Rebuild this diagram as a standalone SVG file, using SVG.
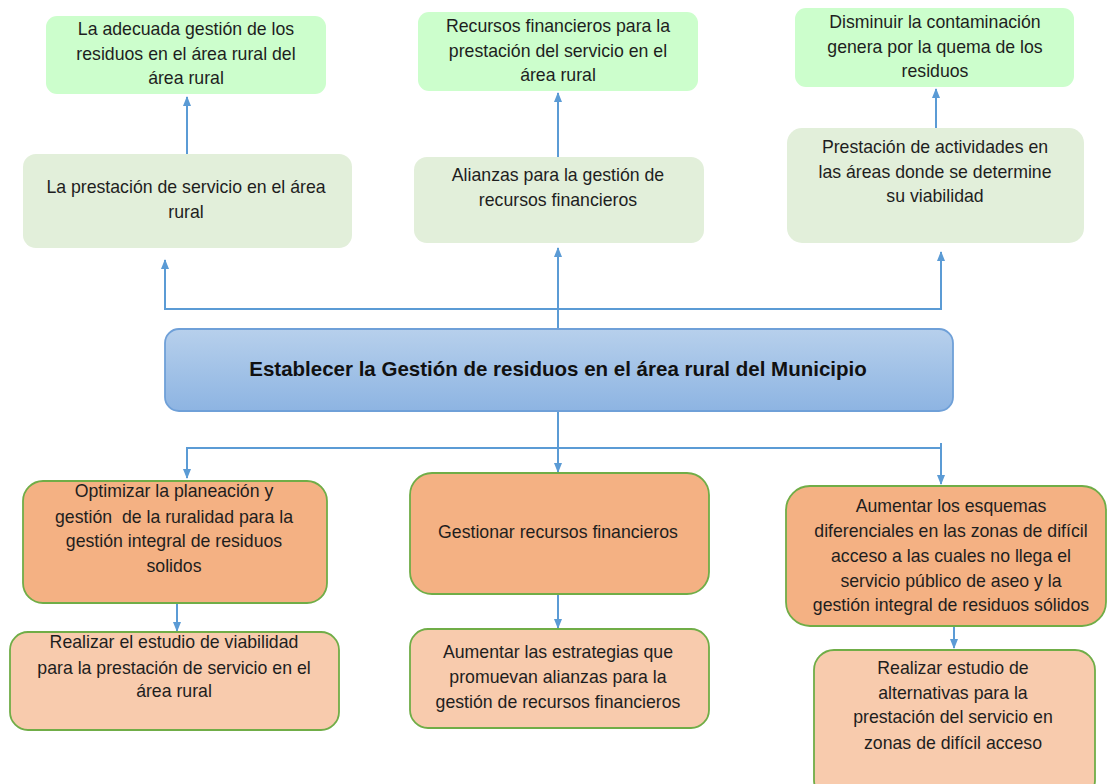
<svg xmlns="http://www.w3.org/2000/svg" width="1108" height="784" viewBox="0 0 1108 784">
<style>
.t{font-family:"Liberation Sans",Arial,sans-serif;font-size:17.7px;fill:#1e1e1e;text-anchor:middle}
.tb{font-family:"Liberation Sans",Arial,sans-serif;font-size:20.5px;font-weight:bold;fill:#111;text-anchor:middle}
.g1{fill:#ccfecc}
.g2{fill:#e2efda}
.o1{fill:#f4b183;stroke:#70ad47;stroke-width:1.8}
.o2{fill:#f8cbad;stroke:#70ad47;stroke-width:1.8}
.c{fill:none;stroke:#5b9bd5;stroke-width:2}
</style>
<defs>
<linearGradient id="bg" x1="0" y1="0" x2="0" y2="1">
<stop offset="0" stop-color="#b7d0ec"/>
<stop offset="1" stop-color="#8db4e2"/>
</linearGradient>
<marker id="ah" markerWidth="10" markerHeight="10" refX="9" refY="5" orient="auto" markerUnits="userSpaceOnUse">
<path d="M0,1 L10,5 L0,9 Z" fill="#5b9bd5"/>
</marker>
</defs>
<rect width="1108" height="784" fill="#fff"/>

<g id="connectors">
<line class="c" x1="187" y1="154" x2="187" y2="97" marker-end="url(#ah)"/>
<line class="c" x1="558" y1="157" x2="558" y2="93" marker-end="url(#ah)"/>
<line class="c" x1="936" y1="128" x2="936" y2="89" marker-end="url(#ah)"/>
<line class="c" x1="558" y1="329" x2="558" y2="248" marker-end="url(#ah)"/>
<polyline class="c" points="165,260 165,309 941,309 941,252"/>
<line class="c" x1="165" y1="270" x2="165" y2="260" marker-end="url(#ah)"/>
<line class="c" x1="941" y1="262" x2="941" y2="252" marker-end="url(#ah)"/>
<line class="c" x1="558" y1="411" x2="558" y2="472" marker-end="url(#ah)"/>
<polyline class="c" points="187,477 187,448 941,448 941,483"/>
<line class="c" x1="941" y1="443" x2="941" y2="448"/>
<line class="c" x1="187" y1="468" x2="187" y2="478" marker-end="url(#ah)"/>
<line class="c" x1="941" y1="474" x2="941" y2="484" marker-end="url(#ah)"/>
<line class="c" x1="177" y1="603" x2="177" y2="631" marker-end="url(#ah)"/>
<line class="c" x1="558" y1="594" x2="558" y2="628" marker-end="url(#ah)"/>
<line class="c" x1="954" y1="626" x2="954" y2="648" marker-end="url(#ah)"/>
</g>

<g id="n-a1">
<rect class="g1" x="46" y="16" width="280" height="78" rx="11"/>
<text class="t" x="186" y="35">La adecuada gestión de los</text>
<text class="t" x="186" y="60">residuos en el área rural del</text>
<text class="t" x="186" y="84">área rural</text>
</g>
<g id="n-b1">
<rect class="g1" x="418" y="12" width="280" height="79" rx="11"/>
<text class="t" x="558" y="32">Recursos financieros para la</text>
<text class="t" x="558" y="57">prestación del servicio en el</text>
<text class="t" x="558" y="81">área rural</text>
</g>
<g id="n-c1">
<rect class="g1" x="795" y="8" width="279" height="79" rx="11"/>
<text class="t" x="935" y="28">Disminuir la contaminación</text>
<text class="t" x="935" y="53">genera por la quema de los</text>
<text class="t" x="935" y="77">residuos</text>
</g>
<g id="n-a2">
<rect class="g2" x="23" y="154" width="329" height="94" rx="13"/>
<text class="t" x="186" y="193">La prestación de servicio en el área</text>
<text class="t" x="186" y="218">rural</text>
</g>
<g id="n-b2">
<rect class="g2" x="414" y="157" width="290" height="86" rx="13"/>
<text class="t" x="558" y="181">Alianzas para la gestión de</text>
<text class="t" x="558" y="206">recursos financieros</text>
</g>
<g id="n-c2">
<rect class="g2" x="787" y="128" width="297" height="115" rx="15"/>
<text class="t" x="935" y="153">Prestación de actividades en</text>
<text class="t" x="935" y="178">las áreas donde se determine</text>
<text class="t" x="935" y="202">su viabilidad</text>
</g>
<g id="n-center">
<rect x="165" y="329" width="788" height="82" rx="14" fill="url(#bg)" stroke="#6fa0d8" stroke-width="1.8"/>
<text class="tb" x="558" y="376">Establecer la Gestión de residuos en el área rural del Municipio</text>
</g>
<g id="n-d1">
<rect class="o1" x="23" y="481" width="304" height="122" rx="20"/>
<text class="t" x="174" y="497">Optimizar la planeación y</text>
<text class="t" x="174" y="523" xml:space="preserve">gestión  de la ruralidad para la</text>
<text class="t" x="174" y="547">gestión integral de residuos</text>
<text class="t" x="174" y="572">solidos</text>
</g>
<g id="n-e1">
<rect class="o1" x="410" y="473" width="299" height="121" rx="22"/>
<text class="t" x="558" y="538">Gestionar recursos financieros</text>
</g>
<g id="n-f1">
<rect class="o1" x="786" y="486" width="320" height="140" rx="24"/>
<text class="t" x="951" y="512">Aumentar los esquemas</text>
<text class="t" x="951" y="537">diferenciales en las zonas de difícil</text>
<text class="t" x="951" y="562">acceso a las cuales no llega el</text>
<text class="t" x="951" y="587">servicio público de aseo y la</text>
<text class="t" x="951" y="611">gestión integral de residuos sólidos</text>
</g>
<g id="n-d2">
<rect class="o2" x="10" y="632" width="329" height="98" rx="18"/>
<text class="t" x="174" y="648">Realizar el estudio de viabilidad</text>
<text class="t" x="174" y="674">para la prestación de servicio en el</text>
<text class="t" x="174" y="697">área rural</text>
</g>
<g id="n-e2">
<rect class="o2" x="410" y="629" width="299" height="99" rx="18"/>
<text class="t" x="558" y="658">Aumentar las estrategias que</text>
<text class="t" x="558" y="683">promuevan alianzas para la</text>
<text class="t" x="558" y="708">gestión de recursos financieros</text>
</g>
<g id="n-f2">
<rect class="o2" x="814" y="650" width="281" height="150" rx="20"/>
<text class="t" x="953" y="674">Realizar estudio de</text>
<text class="t" x="953" y="699">alternativas para la</text>
<text class="t" x="953" y="723">prestación del servicio en</text>
<text class="t" x="953" y="749">zonas de difícil acceso</text>
</g>
</svg>
